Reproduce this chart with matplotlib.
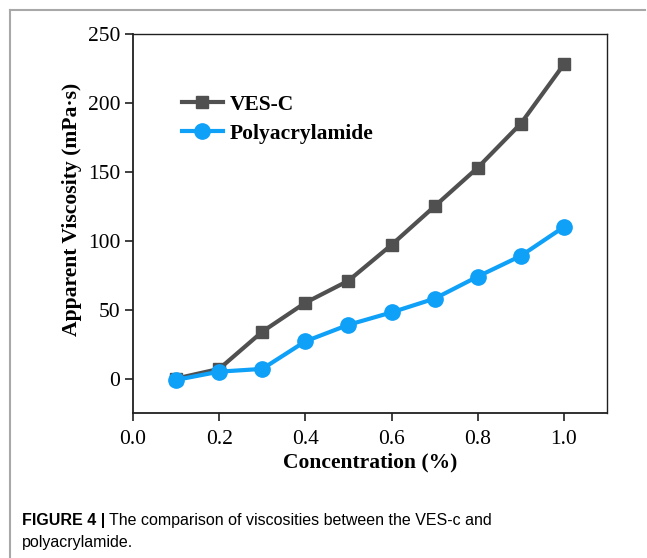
import matplotlib
matplotlib.use("Agg")
import matplotlib.pyplot as plt
from matplotlib.lines import Line2D

concentration = [0.1, 0.2, 0.3, 0.4, 0.5, 0.6, 0.7, 0.8, 0.9, 1.0]
ves_c = [0, 7, 34, 55, 71, 97, 125, 153, 185, 228]
polyacrylamide = [-1, 5, 7, 27, 39, 48, 58, 74, 89, 110]
x_ticks = [0.0, 0.2, 0.4, 0.6, 0.8, 1.0]
y_ticks = [0, 50, 100, 150, 200, 250]

W, H = 647, 558
fig = plt.figure(figsize=(W / 100, H / 100), dpi=100)
serif = ["Liberation Serif", "DejaVu Serif"]
sans = ["Liberation Sans", "DejaVu Sans"]

# outer frame (top and left edges)
fig.add_artist(Line2D([10 / W, 10 / W], [0, 1 - 10 / H], transform=fig.transFigure,
                      color="#a8a8a8", lw=1.5))
fig.add_artist(Line2D([10 / W, 645 / W], [1 - 10 / H, 1 - 10 / H], transform=fig.transFigure,
                      color="#a8a8a8", lw=1.5))

ax = fig.add_axes([133 / W, 1 - 413 / H, (607 - 133) / W, (413 - 34) / H])

ax.plot(concentration, ves_c, color="#505050", lw=3, marker="s", ms=9,
        label="VES-C", zorder=3)
ax.plot(concentration, polyacrylamide, color="#0fa0f8", lw=3, marker="o", ms=11,
        label="Polyacrylamide", zorder=4)

ax.set_xlim(0.0, 1.1)
ax.set_ylim(-25, 250)
ax.set_xticks(x_ticks)
ax.set_xticklabels([f"{t:.1f}" for t in x_ticks], fontfamily=serif, fontsize=15.5)
ax.set_yticks(y_ticks)
ax.set_yticklabels([str(t) for t in y_ticks], fontfamily=serif, fontsize=15.5)
ax.tick_params(direction="out", length=6, width=1.2, color="#202020")
ax.tick_params(axis="x", pad=6)
ax.tick_params(axis="y", pad=3)

for side in ("left", "bottom"):
    ax.spines[side].set_linewidth(1.3)
    ax.spines[side].set_color("#202020")
for side in ("top", "right"):
    ax.spines[side].set_linewidth(1.0)
    ax.spines[side].set_color("#202020")

ax.set_xlabel("Concentration (%)", fontfamily=serif, fontweight="bold", fontsize=15.5, labelpad=3)
ax.set_ylabel("Apparent Viscosity (mPa·s)", fontfamily=serif, fontweight="bold", fontsize=15.6)
ax.yaxis.set_label_coords(-0.108, 0.536)

leg = ax.legend(loc="upper left", bbox_to_anchor=(0.085, 0.862), frameon=False,
                prop={"family": serif, "weight": "bold", "size": 15.5},
                handlelength=1.9, handletextpad=0.3, labelspacing=0.4, borderaxespad=0)

# caption
cap_size = 11.5
bold_txt = fig.text(22 / W, 1 - 520 / H, "FIGURE 4 |", fontfamily=sans, fontweight="bold",
                    fontsize=cap_size, va="center", ha="left")
renderer = fig.canvas.get_renderer()
bb = bold_txt.get_window_extent(renderer)
fig.text((bb.x1 + 4) / W, 1 - 520 / H, "The comparison of viscosities between the VES-c and",
         fontfamily=sans, fontsize=cap_size, va="center", ha="left")
fig.text(22 / W, 1 - 543 / H, "polyacrylamide.", fontfamily=sans, fontsize=cap_size,
         va="center", ha="left")

fig.savefig("out.png", dpi=100)
